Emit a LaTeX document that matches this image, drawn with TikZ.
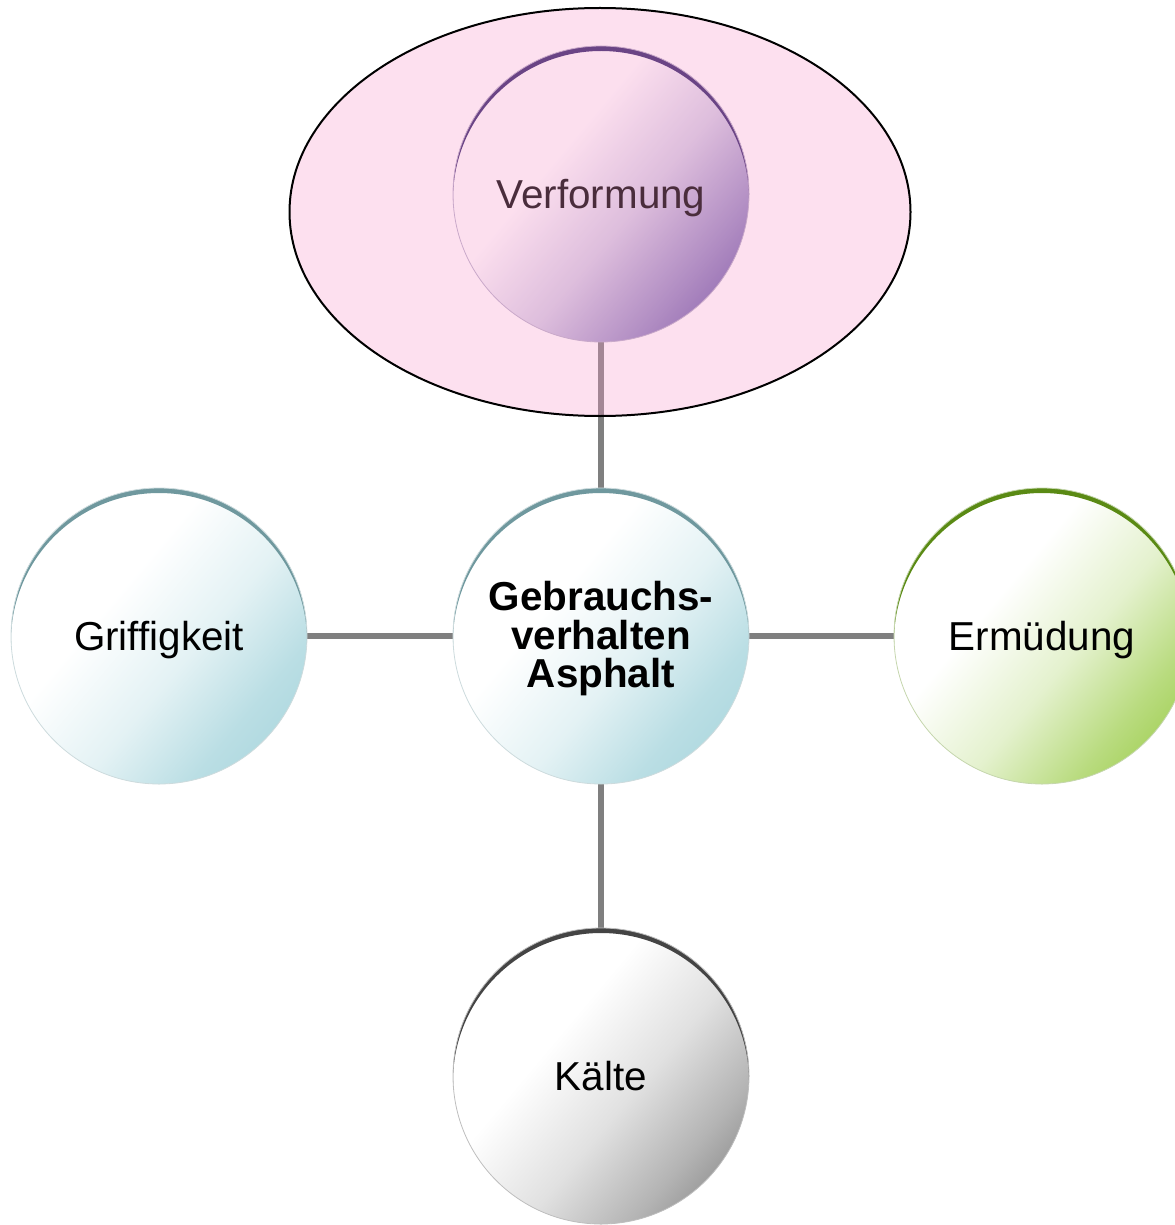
\documentclass[tikz,border=0pt]{standalone}
\usepackage{fontspec}
\setmainfont{Liberation Sans}
\usetikzlibrary{shapes.geometric}
\pgfdeclarelayer{background}
\pgfsetlayers{background,main}
\definecolor{cteal}{HTML}{A3D3DB}
\definecolor{rteal}{HTML}{6F989E}
\definecolor{cpurp}{HTML}{4D3D98}
\definecolor{rpurp}{HTML}{2E2068}
\definecolor{cgreen}{HTML}{93C83A}
\definecolor{rgreen}{HTML}{5A8A14}
\definecolor{cgray}{HTML}{767676}
\definecolor{rgray}{HTML}{444444}
\definecolor{linkgray}{HTML}{7F7F7F}
\definecolor{ellpink}{HTML}{F898CA}
\pgfdeclarehorizontalshading{ballteal}{100bp}{color(0bp)=(white); color(40bp)=(white); color(56bp)=(cteal!30!white); color(70bp)=(cteal!75!white); color(85bp)=(cteal); color(100bp)=(cteal)}
\pgfdeclarehorizontalshading{ballpurp}{100bp}{color(0bp)=(white); color(40bp)=(white); color(56bp)=(cpurp!25!white); color(70bp)=(cpurp!60!white); color(85bp)=(cpurp); color(100bp)=(cpurp)}
\pgfdeclarehorizontalshading{ballgreen}{100bp}{color(0bp)=(white); color(40bp)=(white); color(56bp)=(cgreen!25!white); color(70bp)=(cgreen!65!white); color(85bp)=(cgreen); color(100bp)=(cgreen)}
\pgfdeclarehorizontalshading{ballgray}{100bp}{color(0bp)=(white); color(40bp)=(white); color(56bp)=(cgray!22!white); color(70bp)=(cgray!55!white); color(85bp)=(cgray); color(100bp)=(cgray)}
\tikzset{
  ball/.style={circle, minimum size=148pt, inner sep=0pt, align=center,
    font=\fontsize{20.2pt}{19.3pt}\selectfont, shade, shading angle=-40,
    line width=0.4pt},
  onelabel/.style={text height=14.4pt, text depth=0pt},
  rim/.style={path picture={\fill[#1, even odd rule]
      (path picture bounding box.south west) rectangle (path picture bounding box.north east)
      ([yshift=-2.5pt]path picture bounding box.center) circle[radius=74pt];}},
  ballteal/.style={ball, shading=ballteal, draw=rteal!35, rim=rteal},
  ballpurp/.style={ball, shading=ballpurp, draw=rpurp!35, rim=rpurp},
  ballgreen/.style={ball, shading=ballgreen, draw=rgreen!35, rim=rgreen},
  ballgray/.style={ball, shading=ballgray, draw=rgray!35, rim=rgray},
  link/.style={draw=linkgray, line width=3pt},
  focus/.style={fill=ellpink, fill opacity=0.3, draw=black, draw opacity=1, line width=1pt}
}
\begin{document}
\begin{tikzpicture}[x=0.5pt, y=-0.5pt]
\useasboundingbox (0,0) rectangle (1174,1225);
\node[ballteal, font=\fontsize{20.2pt}{19.3pt}\selectfont\bfseries] (ctr) at (601,636)
  {\rule{0pt}{17.5pt}Gebrauchs-\\verhalten\\Asphalt};
\node[ballpurp, onelabel] (top) at (601,194) {Verformung};
\node[ballteal, onelabel] (left) at (159,636) {Griffigkeit};
\node[ballgreen, onelabel] (right) at (1042,636) {Ermüdung};
\node[ballgray, onelabel] (bottom) at (601,1076) {Kälte};
\begin{pgfonlayer}{background}
\draw[link] (ctr) -- (top);
\draw[link] (ctr) -- (left);
\draw[link] (ctr) -- (right);
\draw[link] (ctr) -- (bottom);
\end{pgfonlayer}
\draw[focus] (600,212) ellipse[x radius=310.5, y radius=204];
\end{tikzpicture}
\end{document}
